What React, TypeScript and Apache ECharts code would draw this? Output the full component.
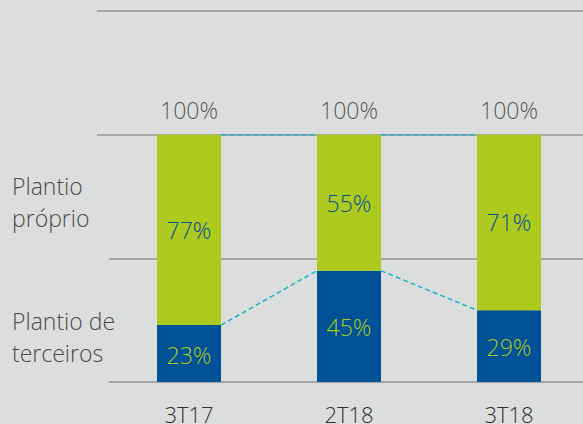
import React, { useEffect, useRef } from "react";
import * as echarts from "echarts";

const categories = ["3T17", "2T18", "3T18"];
const terceiros = [23, 45, 29];
const proprio = [77, 55, 71];
const totals = [100, 100, 100];
const yTicks = [0, 50, 100, 150];

const FONT = "'Open Sans', 'Noto Sans', sans-serif";
const GREEN = "#afca1e";
const BLUE = "#005195";
const TEAL = "#20b4c9";
const GRID = "#959595";
const BG = "#dcdedd";
const TEXT = "#2f2f2f";
const BAR_W = 64;

export default function App() {
  const ref = useRef<HTMLDivElement>(null);
  useEffect(() => {
    if (!ref.current) return;
    const chart = echarts.init(ref.current, null, { renderer: "svg" });
    const pairs = (arr: number[]) =>
      arr.slice(0, -1).map((v, i) => [i, v, arr[i + 1]]);
    const dashRender = (params: any, api: any) => {
      const i = api.value(0);
      const p1 = api.coord([i, api.value(1)]);
      const p2 = api.coord([i + 1, api.value(2)]);
      return {
        type: "line",
        shape: { x1: p1[0] + BAR_W / 2, y1: p1[1], x2: p2[0] - BAR_W / 2, y2: p2[1] },
        style: { stroke: TEAL, lineWidth: 1.5, lineDash: [5, 3] },
        z2: 10,
      };
    };
    const yBase = {
      type: "value",
      min: yTicks[0],
      max: yTicks[yTicks.length - 1],
      interval: 50,
      axisLabel: { show: false },
      axisLine: { show: false },
      axisTick: { show: false },
    };
    const lbl = {
      fontFamily: FONT,
      fontWeight: 300,
    };
    chart.setOption({
      animation: false,
      backgroundColor: BG,
      textStyle: { fontFamily: FONT },
      grid: [
        { left: 97, right: 0, top: 11, bottom: 42, outerBoundsMode: "none" },
        { left: 109, width: 480, top: 11, bottom: 42, outerBoundsMode: "none" },
      ],
      xAxis: [
        { type: "category", gridIndex: 0, data: categories, show: false },
        {
          type: "category",
          gridIndex: 1,
          data: categories,
          axisLine: { show: false },
          axisTick: { show: false },
          axisLabel: { ...lbl, color: TEXT, fontSize: 22, margin: 21 },
        },
      ],
      yAxis: [
        {
          ...yBase,
          gridIndex: 0,
          splitLine: {
            show: true,
            lineStyle: { color: ["transparent", "transparent", GRID, GRID], width: 1.5 },
          },
        },
        {
          ...yBase,
          gridIndex: 1,
          splitLine: {
            show: true,
            lineStyle: { color: [GRID, GRID, "transparent", "transparent"], width: 1.5 },
          },
        },
      ],
      series: [
        {
          type: "bar",
          name: "Plantio de terceiros",
          xAxisIndex: 1,
          yAxisIndex: 1,
          stack: "t",
          barWidth: BAR_W,
          data: terceiros,
          itemStyle: { color: BLUE },
          label: {
            ...lbl,
            show: true,
            position: "inside",
            offset: [0, 1],
            formatter: "{c}%",
            color: GREEN,
            fontSize: 23,
          },
        },
        {
          type: "bar",
          name: "Plantio próprio",
          xAxisIndex: 1,
          yAxisIndex: 1,
          stack: "t",
          barWidth: BAR_W,
          data: proprio,
          itemStyle: { color: GREEN },
          label: {
            ...lbl,
            show: true,
            position: "inside",
            offset: [0, 0],
            formatter: "{c}%",
            color: BLUE,
            fontSize: 23,
          },
        },
        {
          type: "scatter",
          xAxisIndex: 1,
          yAxisIndex: 1,
          symbolSize: 0,
          data: totals,
          label: {
            ...lbl,
            show: true,
            position: "top",
            distance: 13,
            formatter: "{c}%",
            color: TEXT,
            fontSize: 23,
          },
          z: 5,
        },
        {
          type: "custom",
          xAxisIndex: 1,
          yAxisIndex: 1,
          data: pairs(totals),
          renderItem: dashRender,
          z: 5,
        },
        {
          type: "custom",
          xAxisIndex: 1,
          yAxisIndex: 1,
          data: pairs(terceiros),
          renderItem: dashRender,
          z: 5,
        },
      ],
      graphic: [
        {
          type: "text",
          left: 12,
          top: 170,
          style: {
            text: "Plantio\npróprio",
            fill: "#4a4a4a",
            font: `300 23px ${FONT}`,
            lineHeight: 32,
          },
        },
        {
          type: "text",
          left: 12,
          top: 305,
          style: {
            text: "Plantio de\nterceiros",
            fill: "#4a4a4a",
            font: `300 23px ${FONT}`,
            lineHeight: 32,
          },
        },
      ],
    });
    return () => chart.dispose();
  }, []);
  return (
    <div
      ref={ref}
      style={{ position: "fixed", left: 0, top: 0, width: 583, height: 424 }}
    />
  );
}
